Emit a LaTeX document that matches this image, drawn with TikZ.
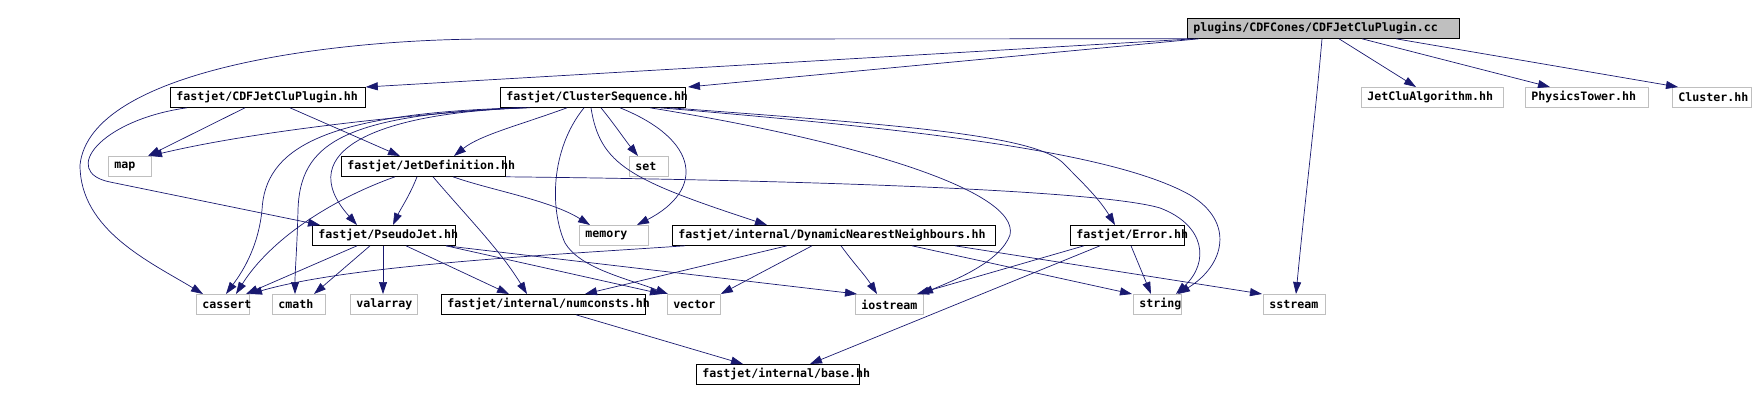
\documentclass[tikz,border=0pt]{standalone}
\usepackage{fontspec}
\usetikzlibrary{arrows.meta}
\newfontfamily\dotfont{DejaVu Sans Mono}
\definecolor{incblue}{HTML}{191970}
\definecolor{sysgray}{HTML}{BFBFBF}

\begin{document}
\begin{tikzpicture}[x=1pt, y=-1pt,
    file/.style={draw=black, line width=0.8pt, fill=white, anchor=north west,
      minimum height=20pt, inner xsep=6pt, inner ysep=0pt, align=left,
      font={\dotfont\bfseries\fontsize{11.6pt}{12pt}\selectfont}},
    sysfile/.style={file, draw=sysgray},
    inc/.style={draw=incblue, line width=0.7pt, -{Triangle[length=12pt,width=8pt]}}]
  \useasboundingbox (0,0) rectangle (1754,401);

  % files, row by row
  \node[file, fill=sysgray, text width=260pt] (root) at (1187,18) {plugins/CDFCones/CDFJetCluPlugin.cc};

  \node[file, text width=183pt] (cdf) at (170,87) {fastjet/CDFJetCluPlugin.hh};
  \node[file, text width=173pt] (cs) at (500,87) {fastjet/ClusterSequence.hh};
  \node[sysfile, text width=130pt] (jca) at (1361,87) {JetCluAlgorithm.hh};
  \node[sysfile, text width=111pt] (ptw) at (1525,87) {PhysicsTower.hh};
  \node[sysfile, text width=67pt] (clu) at (1672,87) {Cluster.hh};

  \node[sysfile, text width=31pt] (map) at (108,156) {map};
  \node[file, text width=152pt] (jdef) at (341,156) {fastjet/JetDefinition.hh};
  \node[sysfile, text width=27pt] (set) at (629,156) {set};

  \node[file, text width=131pt] (pj) at (312,225) {fastjet/PseudoJet.hh};
  \node[sysfile, text width=57pt] (mem) at (579,225) {memory};
  \node[file, text width=311pt] (dnn) at (672,225) {fastjet/internal/DynamicNearestNeighbours.hh};
  \node[file, text width=102pt] (err) at (1070,225) {fastjet/Error.hh};

  \node[sysfile, text width=41pt] (cas) at (196,294) {cassert};
  \node[sysfile, text width=41pt] (cmath) at (272,294) {cmath};
  \node[sysfile, text width=55pt] (val) at (350,294) {valarray};
  \node[file, text width=192pt] (numc) at (441,294) {fastjet/internal/numconsts.hh};
  \node[sysfile, text width=41pt] (vec) at (667,294) {vector};
  \node[sysfile, text width=56pt] (ios) at (855,294) {iostream};
  \node[sysfile, text width=36pt] (str) at (1133,294) {string};
  \node[sysfile, text width=50pt] (sst) at (1263,294) {sstream};

  \node[file, text width=151pt] (base) at (696,364) {fastjet/internal/base.hh};

  % includes of the .cc file
  \draw[inc] ([xshift=8pt]root.south west) -- (cdf.north east);
  \draw[inc] ([xshift=12pt]root.south west) -- ([xshift=188pt]cs.north west);
  \draw[inc] ([xshift=3pt]root.south west) -- (491,39) .. controls (330,39) and (90,70) .. (80,165)
    .. controls (80,230) and (150,262) .. ([xshift=7pt]cas.north west);
  \draw[inc] ([xshift=152pt]root.south west) -- ([xshift=55pt]jca.north west);
  \draw[inc] ([xshift=175pt]root.south west) -- ([xshift=25pt]ptw.north west);
  \draw[inc] ([xshift=209pt]root.south west) -- ([xshift=6pt]clu.north west);
  \draw[inc] ([xshift=135pt]root.south west) .. controls (1315,120) and (1305,200) .. ([xshift=33pt]sst.north west);

  % CDFJetCluPlugin.hh
  \draw[inc] ([xshift=75pt]cdf.south west) -- ([xshift=40pt]map.north west);
  \draw[inc] ([xshift=120pt]cdf.south west) -- ([xshift=59pt]jdef.north west);
  \draw[inc] ([xshift=17pt]cdf.south west) .. controls (100,120) and (60,172) .. (110,182)
    -- ([xshift=8pt]pj.north west);

  % ClusterSequence.hh
  \draw[inc] ([xshift=18pt]cs.south west) .. controls (400,115) and (250,132) .. ([xshift=42pt]map.north west);
  \draw[inc] ([xshift=67pt]cs.south west) .. controls (520,125) and (480,135) .. ([xshift=113pt]jdef.north west);
  \draw[inc] ([xshift=30pt]cs.south west) .. controls (380,112) and (290,150) .. ([xshift=45pt]pj.north west);
  \draw[inc] ([xshift=22pt]cs.south west) .. controls (320,113) and (265,150) .. (262,210)
    .. controls (258,250) and (240,275) .. ([xshift=30pt]cas.north west);
  \draw[inc] ([xshift=26pt]cs.south west) .. controls (340,114) and (300,145) .. (298,210)
    .. controls (297,250) and (295,270) .. ([xshift=23pt]cmath.north west);
  \draw[inc] ([xshift=84pt]cs.south west) .. controls (550,150) and (550,210) .. (565,243)
    .. controls (580,268) and (625,278) .. ([xshift=1pt]vec.north west);
  \draw[inc] ([xshift=101pt]cs.south west) .. controls (615,125) and (625,140) .. ([xshift=9pt]set.north west);
  \draw[inc] ([xshift=120pt]cs.south west) .. controls (700,140) and (705,190) .. ([xshift=58pt]mem.north west);
  \draw[inc] ([xshift=91pt]cs.south west) .. controls (600,165) and (630,180) .. ([xshift=95pt]dnn.north west);
  \draw[inc] ([xshift=150pt]cs.south west) .. controls (850,140) and (1020,190) .. (1010,235)
    .. controls (1000,262) and (955,280) .. ([xshift=66pt]ios.north west);
  \draw[inc] ([xshift=170pt]cs.south west) .. controls (900,125) and (1040,135) .. (1065,165)
    .. controls (1085,185) and (1100,200) .. ([xshift=45pt]err.north west);
  \draw[inc] ([xshift=160pt]cs.south west) .. controls (900,128) and (1110,150) .. (1190,195)
    .. controls (1235,222) and (1225,265) .. ([xshift=45pt]str.north west);

  % JetDefinition.hh
  \draw[inc] ([xshift=76pt]jdef.south west) .. controls (410,195) and (400,210) .. ([xshift=81pt]pj.north west);
  \draw[inc] ([xshift=54pt]jdef.south west) .. controls (330,200) and (270,240) .. ([xshift=40pt]cas.north west);
  \draw[inc] ([xshift=92pt]jdef.south west) .. controls (470,220) and (500,250) .. ([xshift=86pt]numc.north west);
  \draw[inc] ([xshift=112pt]jdef.south west) .. controls (490,190) and (550,200) .. ([xshift=11pt]mem.north west);
  \draw[inc] (jdef.south east) .. controls (800,180) and (1100,190) .. (1160,208)
    .. controls (1205,225) and (1210,262) .. ([xshift=43pt]str.north west);

  % PseudoJet.hh
  \draw[inc] ([xshift=45pt]pj.south west) -- ([xshift=50pt]cas.north west);
  \draw[inc] ([xshift=58pt]pj.south west) -- ([xshift=42pt]cmath.north west);
  \draw[inc] ([xshift=71pt]pj.south west) -- ([xshift=33pt]val.north west);
  \draw[inc] ([xshift=94pt]pj.south west) -- ([xshift=68pt]numc.north west);
  \draw[inc] ([xshift=134pt]pj.south west) -- ([xshift=-5pt]vec.north west);
  \draw[inc] ([xshift=134pt]pj.south west) -- ([xshift=2pt]ios.north west);

  % DynamicNearestNeighbours.hh
  \draw[inc] ([xshift=13pt]dnn.south west) .. controls (550,255) and (350,265) .. ([xshift=54pt]cas.north west);
  \draw[inc] ([xshift=115pt]dnn.south west) -- ([xshift=144pt]numc.north west);
  \draw[inc] ([xshift=140pt]dnn.south west) -- (vec.north east);
  \draw[inc] ([xshift=169pt]dnn.south west) .. controls (855,265) and (865,275) .. ([xshift=22pt]ios.north west);
  \draw[inc] ([xshift=240pt]dnn.south west) -- ([xshift=-1pt]str.north west);
  \draw[inc] ([xshift=283pt]dnn.south west) -- ([xshift=-1pt]sst.north west);

  % Error.hh and numconsts.hh
  \draw[inc] ([xshift=14pt]err.south west) -- ([xshift=62pt]ios.north west);
  \draw[inc] ([xshift=30pt]err.south west) -- ([xshift=114pt]base.north west);
  \draw[inc] ([xshift=61pt]err.south west) -- ([xshift=18pt]str.north west);
  \draw[inc] ([xshift=135pt]numc.south west) -- ([xshift=47pt]base.north west);
\end{tikzpicture}
\end{document}
